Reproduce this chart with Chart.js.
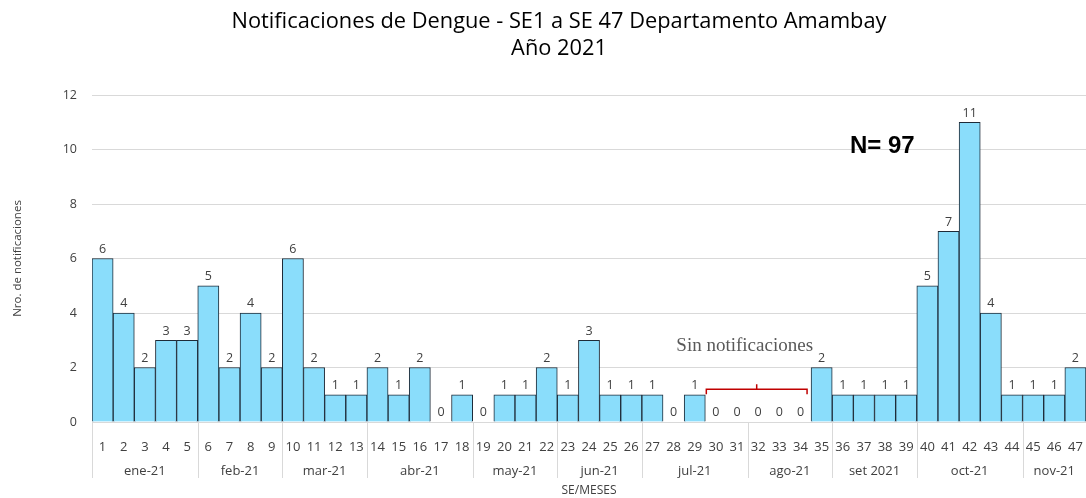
<!DOCTYPE html>
<html>
<head>
<meta charset="utf-8">
<script src="https://cdn.jsdelivr.net/npm/chart.js@4/dist/chart.umd.min.js"></script>
<style>
html,body{margin:0;padding:0;background:#fff;}
#wrap{width:1086px;height:498px;position:relative;}
</style>
</head>
<body>
<div id="wrap"><canvas id="c" width="1086" height="498"></canvas></div>
<script>
const weeks = ['1','2','3','4','5','6','7','8','9','10','11','12','13','14','15','16','17','18','19','20','21','22','23','24','25','26','27','28','29','30','31','32','33','34','35','36','37','38','39','40','41','42','43','44','45','46','47'];
const cases = [6,4,2,3,3,5,2,4,2,6,2,1,1,2,1,2,0,1,0,1,1,2,1,3,1,1,1,0,1,0,0,0,0,0,2,1,1,1,1,5,7,11,4,1,1,1,2];
const months = ['ene-21','feb-21','mar-21','abr-21','may-21','jun-21','jul-21','ago-21','set 2021','oct-21','nov-21'];
const monthSpans = [5,4,4,5,4,4,5,4,4,5,3];
const yTicks = [0,2,4,6,8,10,12];
const titleLines = ['Notificaciones de Dengue - SE1 a SE 47 Departamento Amambay','Año 2021'];
const totalLabel = 'N= 97';
const noteLabel = 'Sin notificaciones';
const noteFrom = 29, noteTo = 33; // zero-based week indices (SE30..SE34)

const sans = "'Open Sans', 'Noto Sans', sans-serif";

const extras = {
  id: 'extras',
  beforeDraw(chart) {
    const ctx = chart.ctx;
    ctx.save();
    ctx.font = "500 21.8px " + sans;
    ctx.fillStyle = '#000';
    ctx.textAlign = 'center';
    ctx.textBaseline = 'middle';
    ctx.fillText(titleLines[0], 559, 22);
    ctx.fillText(titleLines[1], 559, 49);
    ctx.restore();
  },
  afterDatasetsDraw(chart) {
    const ctx = chart.ctx;
    const x = chart.scales.x, y = chart.scales.y;
    const meta = chart.getDatasetMeta(0);
    const step = x.getPixelForValue(1) - x.getPixelForValue(0);
    const base = y.getPixelForValue(0);
    ctx.save();
    // data labels
    ctx.font = "12.5px " + sans;
    ctx.fillStyle = '#404040';
    ctx.textAlign = 'center';
    ctx.textBaseline = 'bottom';
    meta.data.forEach((bar, i) => {
      ctx.fillText(String(cases[i]), bar.x, bar.y - 3);
    });
    // month separators and labels
    ctx.strokeStyle = '#d9d9d9';
    ctx.lineWidth = 1;
    let start = 0;
    const drawSep = (idx) => {
      const px = Math.round(x.getPixelForValue(idx) - step / 2) + 0.5;
      ctx.beginPath();
      ctx.moveTo(px, base);
      ctx.lineTo(px, base + 56);
      ctx.stroke();
    };
    ctx.fillStyle = '#404040';
    ctx.font = "13px " + sans;
    ctx.textBaseline = 'middle';
    months.forEach((m, k) => {
      drawSep(start);
      const mid = (x.getPixelForValue(start) + x.getPixelForValue(start + monthSpans[k] - 1)) / 2;
      ctx.fillText(m, mid, base + 49);
      start += monthSpans[k];
    });
    drawSep(start);
    // N label
    ctx.font = "bold 24px 'Liberation Sans', Arial, sans-serif";
    ctx.fillStyle = '#000';
    ctx.textAlign = 'left';
    ctx.fillText(totalLabel, x.getPixelForValue(36) - 14, y.getPixelForValue(10.1));
    // bracket
    const bl = x.getPixelForValue(noteFrom) - step / 2 + 1;
    const br = x.getPixelForValue(noteTo) + step / 2 - 4;
    const by = y.getPixelForValue(1.2);
    ctx.strokeStyle = '#c00000';
    ctx.lineWidth = 1.5;
    ctx.beginPath();
    ctx.moveTo(bl, by + 5);
    ctx.lineTo(bl, by);
    ctx.lineTo(br, by);
    ctx.lineTo(br, by + 5);
    ctx.moveTo((bl + br) / 2, by);
    ctx.lineTo((bl + br) / 2, by - 5);
    ctx.stroke();
    // note
    ctx.font = "19px 'Liberation Serif', 'DejaVu Serif', serif";
    ctx.fillStyle = '#595959';
    ctx.textAlign = 'center';
    ctx.fillText(noteLabel, (bl + br) / 2 - 12, y.getPixelForValue(2.8));
    ctx.restore();
  }
};

new Chart(document.getElementById('c'), {
  type: 'bar',
  data: {
    labels: weeks,
    datasets: [{
      data: cases,
      backgroundColor: '#8ADDFB',
      borderColor: '#1e2b38',
      borderWidth: 1,
      categoryPercentage: 1.0,
      barPercentage: 1.0
    }]
  },
  options: {
    responsive: false,
    animation: false,
    layout: { padding: { left: 0, right: 0, top: 95, bottom: 0 } },
    plugins: {
      legend: { display: false },
      tooltip: { enabled: false },
      title: { display: false }
    },
    scales: {
      x: {
        offset: true,
        grid: { display: false },
        border: { display: true, color: '#d9d9d9' },
        ticks: { color: '#404040', font: { family: sans, size: 13 }, maxRotation: 0, autoSkip: false, padding: 9 },
        title: { display: true, text: 'SE/MESES', color: '#404040', font: { family: sans, size: 12 }, padding: { top: 0, bottom: 0 } },
        afterFit(s) { s.height = 76; s.paddingLeft = 0; s.paddingRight = 0; }
      },
      y: {
        min: 0, max: 12,
        afterBuildTicks(s) { s.ticks = yTicks.map(v => ({ value: v })); },
        grid: { color: '#d9d9d9', drawTicks: false },
        border: { display: false },
        ticks: { color: '#404040', font: { family: sans, size: 12.5 }, padding: 15 },
        title: { display: true, text: 'Nro. de notificaciones', color: '#404040', font: { family: sans, size: 11.5 }, padding: { top: 11, bottom: 0 } },
        afterFit(s) { s.width = 92; s.paddingTop = 0; s.paddingBottom = 0; }
      }
    }
  },
  plugins: [extras]
});
</script>
</body>
</html>
